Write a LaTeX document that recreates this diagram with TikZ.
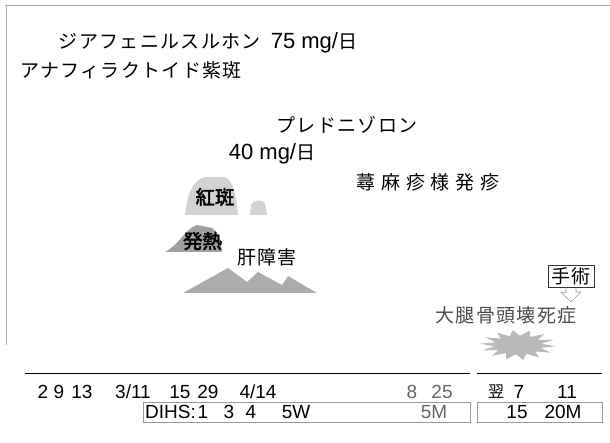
\documentclass[tikz,border=0pt]{standalone}
\usepackage{fontspec}
\setmainfont{Noto Sans CJK JP}
\newfontfamily\jp[LetterSpace=7]{Noto Sans CJK JP}
\newfontfamily\jpw[LetterSpace=30]{Noto Sans CJK JP}
\newfontfamily\jpb[FakeBold=2.5]{Noto Sans CJK JP}
\newfontfamily\lat{Liberation Sans}
\begin{document}
\begin{tikzpicture}[x=1pt,y=-1pt,
  txt/.style={inner sep=0pt,font=\jp\fontsize{19}{19}\selectfont},
  num/.style={inner sep=0pt,font=\lat\fontsize{19}{19}\selectfont},
  bold/.style={inner sep=0pt,font=\jpb\fontsize{19.5}{19.5}\selectfont}]
\useasboundingbox (0,0) rectangle (610,443);
% frame
\draw[gray!70,line width=0.8pt] (5,5) -- (610,5);
\draw[gray!60,line width=0.6pt] (6,5) -- (6,345);
% texts
\node[txt] (t1) at (208,42.5) {ジアフェニルスルホン\hspace{10pt}{\lat\fontsize{22}{22}\selectfont 75 mg/}日};
\node[txt] (t2) at (131,70) {アナフィラクトイド紫斑};
\node[txt] (t3) at (347,125) {プレドニゾロン};
\node[txt] (t4) at (272,153.5) {{\lat\fontsize{22}{22}\selectfont 40 mg/}日};
\node[inner sep=0pt,font=\jpw\fontsize{19}{19}\selectfont] (t5) at (428,182) {蕁麻疹様発疹};
% shapes
\fill[gray!35] (185,215) .. controls (187,196) and (192,180) .. (205,177) -- (225,177) .. controls (232,180) and (236,192) .. (238,215) -- cycle;
\fill[gray!35] (250,215) -- (251,205) .. controls (253,200) and (262,199) .. (265,203) -- (267,215) -- cycle;
\fill[gray!75] (165,252) .. controls (178,246) and (186,228) .. (197,225) -- (212,228) .. controls (218,232) and (221,240) .. (222,252) -- cycle;
\fill[gray!65] (183,293) -- (228,268) -- (247,282) -- (258,272) -- (282,285) -- (288,276) -- (317,293) -- cycle;
\fill[gray!55] plot[samples=29,domain=0:28]
  ({518+38*(1-0.38*mod(\x,2))*cos(\x*360/28+5)},{345+15*(1-0.38*mod(\x,2))*sin(\x*360/28+5)}) -- cycle;
\node[bold] (hs) at (215,197) {紅斑};
\node[bold] (hn) at (202.5,241) {発熱};
\node[txt] (kn) at (267,257) {肝障害};
% surgery callout
\node[draw=black!80,line width=0.6pt,minimum width=46pt,minimum height=22pt,inner sep=0pt,font=\jp\fontsize{19}{19}\selectfont] (op) at (571,276) {手術};
\draw[gray!80,line width=0.6pt] ([xshift=-5pt]op.south) -- ++(0,5) -- ++(-5,0) -- (571,302) coordinate (tip) -- (581,292) -- ++(-5,0) -- ([xshift=5pt]op.south);
\node[txt,text=black!70] (nec) at (506,315) {大腿骨頭壊死症};
% axis
\coordinate (a1) at (25,373); \coordinate (a2) at (470,373);
\coordinate (a3) at (477,373); \coordinate (a4) at (602,373);
\draw[line width=0.9pt] (a1) -- (a2);
\draw[line width=0.9pt] (a3) -- (a4);
\node[num] (d1) at (43,392) {2};
\node[num] (d2) at (59,392) {9};
\node[num] (d3) at (82,392) {13};
\node[num] (d4) at (133,392) {3/11};
\node[num] (d5) at (180,392) {15};
\node[num] (d6) at (208,392) {29};
\node[num] (d7) at (258,392) {4/14};
\node[num,text=black!60] (d8) at (412,392) {8};
\node[num,text=black!60] (d9) at (442,392) {25};
\node[txt,font=\jp\fontsize{16}{16}\selectfont] (d10) at (496,392) {翌};
\node[num] (d11) at (519,392) {7};
\node[num] (d12) at (567,392) {11};
% DIHS boxes
\draw[gray!80,line width=0.7pt] (143,402) rectangle (470,422);
\draw[gray!80,line width=0.7pt] (477,402) rectangle (602,422);
\node[num,anchor=west] (dh) at (145,412) {DIHS:};
\node[num] (w1) at (203,412) {1};
\node[num] (w3) at (229,412) {3};
\node[num] (w4) at (251,412) {4};
\node[num] (w5) at (296,412) {5W};
\node[num,text=black!60] (m5) at (434,412) {5M};
\node[num] (m15) at (517,412) {15};
\node[num] (m20) at (563,412) {20M};
\end{tikzpicture}
\end{document}
